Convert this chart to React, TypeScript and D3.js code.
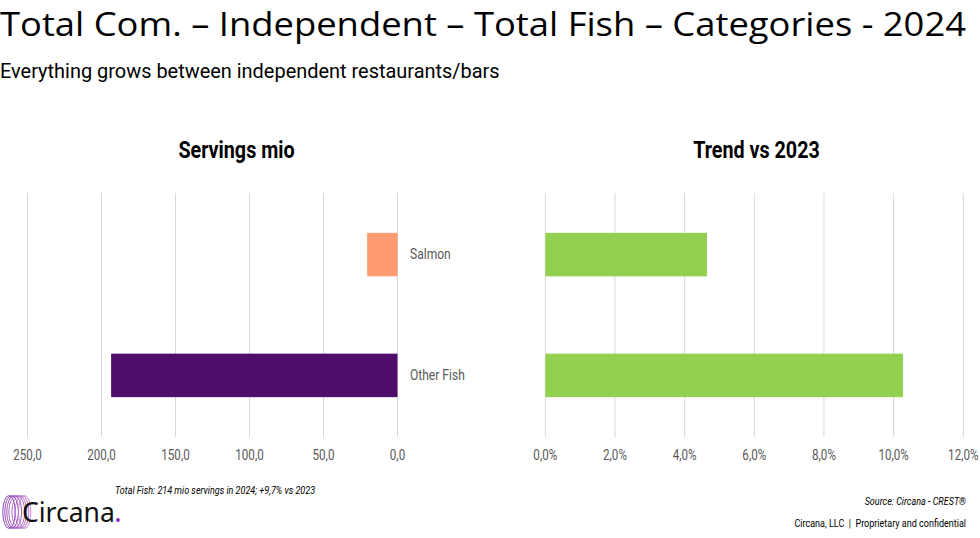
import React, { useEffect, useRef } from "react";
import * as d3 from "d3";

const categories = ["Salmon", "Other Fish"];
const servings = [20.5, 193.5]; // mio servings 2024
const trend = [4.64, 10.27]; // % vs 2023
const servingTicks = [250, 200, 150, 100, 50, 0];
const trendTicks = [0, 2, 4, 6, 8, 10, 12];
const servingColors = ["#FF9B6F", "#4F0E6B"];
const trendColor = "#92D050";

const W = 980;
const H = 538;
const SQ = 0.84; // squeeze for the condensed look
const fmt = (v: number) => d3.format(".1f")(v).replace(".", ",");

// condensed text helper
const CText = ({ x, y, anchor = "start", sq = SQ, children, ...rest }: any) => (
  <text
    transform={`translate(${x},${y}) scale(${sq},1)`}
    textAnchor={anchor}
    {...rest}
  >
    {children}
  </text>
);

export default function App() {
  const ref = useRef<SVGGElement>(null);

  useEffect(() => {
    const g = d3.select(ref.current);
    g.selectAll("*").remove();

    const top = 193;
    const bottom = 437;
    const y = d3
      .scaleBand<string>()
      .domain(categories)
      .range([top, bottom])
      .paddingInner(0.64)
      .paddingOuter(0.33);

    const tickText = (sel: any, xs: (d: number) => number, label: (d: number) => string) =>
      sel
        .append("text")
        .attr("transform", (d: number) => `translate(${xs(d)},459.5) scale(0.83,1)`)
        .attr("text-anchor", "middle")
        .attr("font-size", 14)
        .attr("fill", "#595959")
        .text(label);

    // left panel - servings
    const xL = d3.scaleLinear().domain([0, 250]).range([397.5, 27.5]);
    const left = g.append("g");
    left
      .selectAll("line.grid")
      .data(servingTicks)
      .enter()
      .append("line")
      .attr("x1", (d) => xL(d))
      .attr("x2", (d) => xL(d))
      .attr("y1", top)
      .attr("y2", bottom)
      .attr("stroke", "#d9d9d9")
      .attr("stroke-width", 1);
    left
      .selectAll("rect")
      .data(categories)
      .enter()
      .append("rect")
      .attr("x", (_, i) => xL(servings[i]))
      .attr("width", (_, i) => xL(0) - xL(servings[i]))
      .attr("y", (d) => y(d)!)
      .attr("height", y.bandwidth())
      .attr("fill", (_, i) => servingColors[i]);
    tickText(left.selectAll("text.tick").data(servingTicks).enter(), xL, (d) => fmt(d));

    // category labels
    g.selectAll("text.cat")
      .data(categories)
      .enter()
      .append("text")
      .attr("transform", (d) => `translate(410,${y(d)! + y.bandwidth() / 2 + 4.5}) scale(0.85,1)`)
      .attr("font-size", 14.2)
      .attr("fill", "#595959")
      .text((d) => d);

    // right panel - trend
    const xR = d3.scaleLinear().domain([0, 12]).range([545.3, 963.3]);
    const right = g.append("g");
    right
      .selectAll("line.grid")
      .data(trendTicks)
      .enter()
      .append("line")
      .attr("x1", (d) => xR(d))
      .attr("x2", (d) => xR(d))
      .attr("y1", top)
      .attr("y2", bottom)
      .attr("stroke", "#d9d9d9")
      .attr("stroke-width", 1);
    right
      .selectAll("rect")
      .data(categories)
      .enter()
      .append("rect")
      .attr("x", xR(0))
      .attr("width", (_, i) => xR(trend[i]) - xR(0))
      .attr("y", (d) => y(d)!)
      .attr("height", y.bandwidth())
      .attr("fill", trendColor);
    tickText(right.selectAll("text.tick").data(trendTicks).enter(), xR, (d) => fmt(d) + "%");
  }, []);

  return (
    <svg
      width={W}
      height={H}
      style={{ position: "absolute", left: 0, top: 0 }}
      fontFamily="Roboto, sans-serif"
    >
      <rect width={W} height={H} fill="#fff" />
      <text
        x={0}
        y={36}
        fontSize={33}
        fontFamily="'Open Sans', sans-serif"
        fontWeight={400}
        textLength={966}
        lengthAdjust="spacingAndGlyphs"
        fill="#000"
      >
        Total Com. – Independent – Total Fish – Categories - 2024
      </text>
      <CText x={0} y={78} sq={0.95} fontSize={21} fill="#000">
        Everything grows between independent restaurants/bars
      </CText>
      <CText x={236.5} y={158.3} anchor="middle" fontSize={23.5} fontWeight={700} fill="#000">
        Servings mio
      </CText>
      <CText x={756.5} y={158.3} anchor="middle" fontSize={23.5} fontWeight={700} fill="#000">
        Trend vs 2023
      </CText>
      <CText x={115} y={494} sq={0.86} fontSize={10.5} fontStyle="italic" fill="#000">
        Total Fish: 214 mio servings in 2024; +9,7% vs 2023
      </CText>
      <CText x={966} y={505} sq={0.86} anchor="end" fontSize={10.5} fontStyle="italic" fill="#000">
        Source: Circana  - CREST®
      </CText>
      <CText x={966} y={527} sq={0.86} anchor="end" fontSize={10.5} fill="#000" style={{ whiteSpace: "pre" }}>
        {"Circana, LLC  |  Proprietary and confidential"}
      </CText>
      <g>
        {[0, 1, 2, 3, 4, 5, 6].map((i) => (
          <ellipse
            key={i}
            cx={9 + i * 2.6}
            cy={512}
            rx={8 - Math.abs(i - 3) * 0.6}
            ry={16.5}
            fill="none"
            stroke={d3.interpolateRgb("#7B2FA8", "#C27BD0")(i / 6)}
            strokeWidth={0.9}
          />
        ))}
        <text x={22} y={521.5} fontSize={26.5} fontFamily="'Noto Sans', sans-serif" fill="#111">
          Circana
        </text>
        <circle cx={118} cy={520} r={1.9} fill="#8A2BB5" />
      </g>
      <g ref={ref} />
    </svg>
  );
}
